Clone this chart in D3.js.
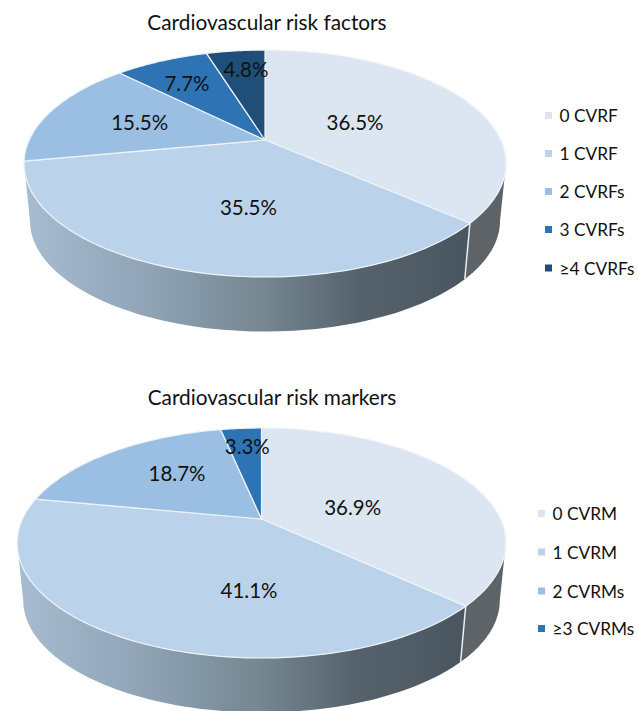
<!DOCTYPE html>
<html>
<head>
<meta charset="utf-8">
<script src="https://cdn.jsdelivr.net/npm/d3@7/dist/d3.min.js"></script>
<style>
  html, body { margin: 0; padding: 0; background: #fff; }
  svg { display: block; }
  text { font-family: Lato, "Open Sans", sans-serif; fill: #111; }
</style>
</head>
<body>
<svg id="chart" width="638" height="711"></svg>
<script>
// Values
const factorValues = [36.5, 35.5, 15.5, 7.7, 4.8];
const factorLabels = ["0 CVRF", "1 CVRF", "2 CVRFs", "3 CVRFs", "≥4 CVRFs"];
const markerValues = [36.9, 41.1, 18.7, 3.3];
const markerLabels = ["0 CVRM", "1 CVRM", "2 CVRMs", "≥3 CVRMs"];
const sliceColors = ["#dce6f2", "#bad3ea", "#9bbfe2", "#2e74b5", "#1f4e79"];

// Layout of each tilted pie
const factorLayout = {
  id: "factors", title: "Cardiovascular risk factors", titleX: 267, titleY: 30,
  cx: 265, cy: 140, a: 235.8, b: 108.6, persp: 0.207, drop: 58, rimScale: 0.975,
  nudges: [[-13, 3], [18, 9], [-16, -3], [-22, -14], [-3, -22]],
  legendX: 545, legendY: [115.5, 153.5, 191.5, 229.5, 268]
};
const markerLayout = {
  id: "markers", title: "Cardiovascular risk markers", titleX: 272, titleY: 405,
  cx: 261.5, cy: 519, a: 239, b: 110, persp: 0.2086, drop: 58, rimScale: 0.975,
  nudges: [[-14, 9], [47, 17], [-5, -10], [-3, -23]],
  legendX: 538, legendY: [513.5, 552, 591, 628.5]
};

const svg = d3.select("#chart");
const defs = svg.append("defs");

function drawPie(values, labels, L) {
  const g = svg.append("g");
  const arcs = d3.pie().sort(null).value(d => d)(values);

  // Perspective projection of a point on the unit disc, angle clockwise from the top
  const project = (angle, r = 1, scale = 1, dy = 0) => {
    const u = Math.sin(angle) * r, v = -Math.cos(angle) * r;
    const w = 1 - L.persp * v;
    return [L.cx + scale * L.a * u / w, L.cy + dy + scale * L.b * v / w];
  };
  const line = d3.line();
  const sweep = (from, to, scale = 1, dy = 0) =>
    d3.range(0, 81).map(i => project(from + (to - from) * i / 80, 1, scale, dy));

  // Side wall shading runs left to right
  const grad = defs.append("linearGradient").attr("id", "wall-" + L.id)
    .attr("gradientUnits", "userSpaceOnUse")
    .attr("x1", L.cx - L.a).attr("x2", L.cx + L.a * 0.85).attr("y1", 0).attr("y2", 0);
  [[0, "#a6bbcf"], [0.28, "#8fa3b5"], [0.55, "#74858f"], [0.75, "#56636d"], [1, "#4a565f"]]
    .forEach(([o, c]) => grad.append("stop").attr("offset", o).attr("stop-color", c));

  // Only the front of the wall shows, between the two silhouette angles
  const wallFrom = Math.acos(-L.persp), wallTo = 2 * Math.PI - wallFrom;
  const wallFill = i => i === 0 ? "#5e6367" : `url(#wall-${L.id})`;

  arcs.forEach((d, i) => {
    const from = Math.max(d.startAngle, wallFrom), to = Math.min(d.endAngle, wallTo);
    if (to <= from) return;
    const outline = sweep(from, to).concat(sweep(to, from, L.rimScale, L.drop));
    g.append("path").attr("d", line(outline) + "Z").attr("fill", wallFill(i));
  });

  // White seam where two slices meet on the wall
  arcs.forEach(d => {
    if (d.endAngle <= wallFrom || d.endAngle >= wallTo) return;
    g.append("path")
      .attr("d", line([project(d.endAngle), project(d.endAngle, 1, L.rimScale, L.drop)]))
      .attr("stroke", "#e8eef4").attr("stroke-width", 1.5).attr("fill", "none");
  });

  // Top face
  arcs.forEach((d, i) => {
    const outline = [project(0, 0)].concat(sweep(d.startAngle, d.endAngle));
    g.append("path").attr("d", line(outline) + "Z")
      .attr("fill", sliceColors[i])
      .attr("stroke", "#eef3f8").attr("stroke-width", 1.2).attr("stroke-linejoin", "round");
  });

  // Percentage labels
  arcs.forEach((d, i) => {
    const [x, y] = project((d.startAngle + d.endAngle) / 2, 0.5);
    g.append("text")
      .attr("x", x + L.nudges[i][0]).attr("y", y + L.nudges[i][1])
      .attr("text-anchor", "middle").attr("dominant-baseline", "central")
      .attr("font-size", 20.5)
      .text(d.value.toFixed(1) + "%");
  });

  // Title
  g.append("text").attr("x", L.titleX).attr("y", L.titleY)
    .attr("text-anchor", "middle").attr("font-size", 20.8).text(L.title);

  // Legend
  labels.forEach((label, i) => {
    g.append("rect")
      .attr("x", L.legendX).attr("y", L.legendY[i] - 3.5)
      .attr("width", 7).attr("height", 7).attr("fill", sliceColors[i]);
    g.append("text")
      .attr("x", L.legendX + 14.5).attr("y", L.legendY[i])
      .attr("dominant-baseline", "central").attr("font-size", 17.3).text(label);
  });
}

drawPie(factorValues, factorLabels, factorLayout);
drawPie(markerValues, markerLabels, markerLayout);
</script>
</body>
</html>
